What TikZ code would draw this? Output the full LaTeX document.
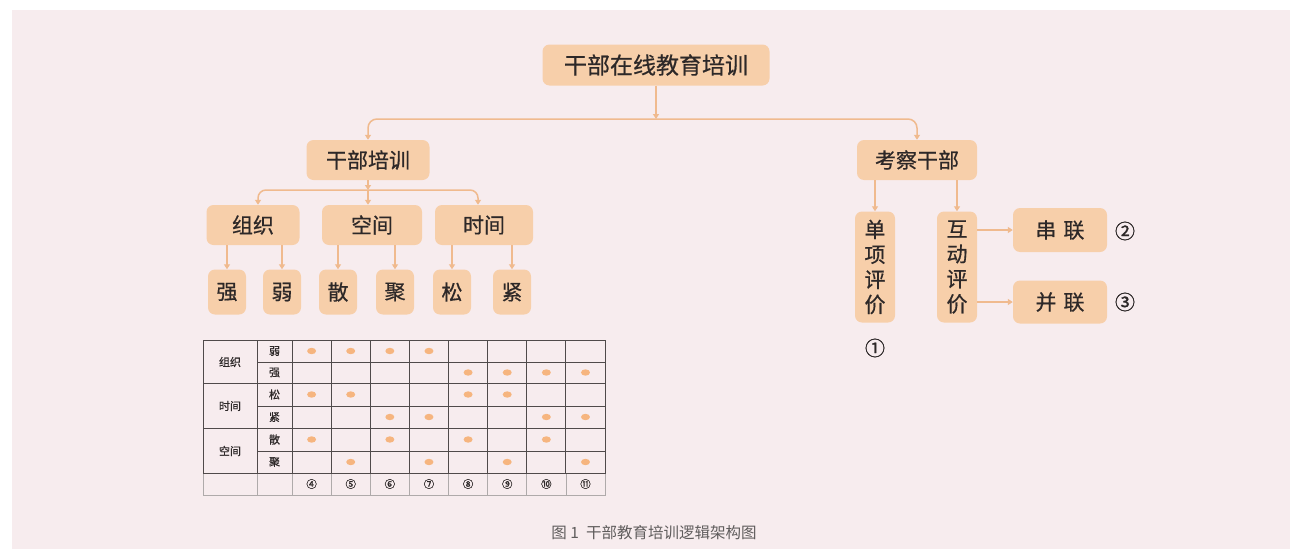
\documentclass[tikz,border=0pt]{standalone}
\usepackage{fontspec}
\setmainfont{Noto Sans CJK SC}
\newfontfamily\heavycjk[FakeBold=1.2]{Noto Sans CJK SC}
\newfontfamily\semicjk[FakeBold=0.6]{Noto Sans CJK SC}
\usetikzlibrary{arrows.meta}
\definecolor{bg}{RGB}{247,236,238}
\definecolor{boxc}{RGB}{247,207,170}
\definecolor{conn}{RGB}{240,186,142}
\definecolor{txt}{RGB}{45,40,40}
\definecolor{gridc}{RGB}{80,74,74}
\definecolor{gridl}{RGB}{175,170,170}
\definecolor{dotc}{RGB}{246,172,108}
\definecolor{capc}{RGB}{95,92,92}
\begin{document}
\begin{tikzpicture}[x=1pt,y=-1pt,
  box/.style={fill=boxc, rounded corners=7pt, inner sep=0pt, text=txt,
    font=\semicjk\fontsize{21}{25}\selectfont},
  arr/.style={draw=conn, line width=1.5pt, -{Triangle[width=6pt,length=5pt]}},
  num/.style={inner sep=0pt, text=txt, font=\heavycjk\fontsize{20}{22}\selectfont},
  tline/.style={draw=gridc, line width=1pt},
  lline/.style={draw=gridl, line width=0.8pt},
  tt/.style={inner sep=0pt, text=txt, font=\semicjk\fontsize{11}{13}\selectfont},
  dotmark/.style={fill=dotc, opacity=0.85}]
\useasboundingbox (0,0) rectangle (1290,549);
\fill[bg] (12,10) rectangle (1290,549);

% ---- top level
\node[box, minimum width=227pt, minimum height=41pt, font=\semicjk\fontsize{23}{26}\selectfont] (top) at (656,65) {干部在线教育培训};
\node[box, minimum width=123pt, minimum height=40pt] (train) at (368,160) {干部培训};
\node[box, minimum width=120pt, minimum height=40pt] (kc) at (917,160) {考察干部};
\coordinate (j0) at (656,119);
\draw[arr] (top.south) -- (j0);
\draw[arr, rounded corners=9pt] (j0) -| (train.north);
\draw[arr, rounded corners=9pt] (j0) -| (kc.north);

% ---- left subtree
\node[box, minimum width=93pt, minimum height=40pt] (zz) at (253,225) {组织};
\node[box, minimum width=100pt, minimum height=40pt] (kj) at (372,225) {空间};
\node[box, minimum width=98pt, minimum height=40pt] (sj) at (484,225) {时间};
\coordinate (j1) at (368,190);
\draw[arr] (train.south) -- (j1);
\draw[arr, rounded corners=8pt] (j1) -| ([xshift=5pt]zz.north);
\draw[arr] (j1) -- (j1 |- kj.north);
\draw[arr, rounded corners=8pt] (j1) -| ([xshift=-6pt]sj.north);

\foreach \nm/\xx/\tx in {qiang/227/强, ruo/282/弱, san/338/散, ju/395/聚, song/452/松, jin/512/紧}{
  \node[box, minimum width=38pt, minimum height=45pt] (\nm) at (\xx,292) {\tx};
}
\draw[arr] (qiang.north |- zz.south) -- (qiang.north);
\draw[arr] (ruo.north |- zz.south) -- (ruo.north);
\draw[arr] (san.north |- kj.south) -- (san.north);
\draw[arr] (ju.north |- kj.south) -- (ju.north);
\draw[arr] (song.north |- sj.south) -- (song.north);
\draw[arr] (jin.north |- sj.south) -- (jin.north);

% ---- right subtree
\node[box, minimum width=40pt, minimum height=111pt, align=center] (dx) at (875,267) {单\\项\\评\\价};
\node[box, minimum width=40pt, minimum height=111pt, align=center] (hd) at (957,267) {互\\动\\评\\价};
\draw[arr] (dx.north |- kc.south) -- (dx.north);
\draw[arr] (hd.north |- kc.south) -- (hd.north);
\node[box, minimum width=94pt, minimum height=44pt] (cl) at (1060,230) {串\hspace{7pt}联};
\node[box, minimum width=94pt, minimum height=43pt] (bl) at (1060,302) {并\hspace{7pt}联};
\draw[arr] (hd.east |- cl.west) -- (cl.west);
\draw[arr] (hd.east |- bl.west) -- (bl.west);
\node[num] (n1) at (875,348) {①};
\node[num] (n2) at (1125,231) {②};
\node[num] (n3) at (1125,302) {③};

% ---- table
% last row (light)
\draw[lline] (203,473) -- (203,495) -- (605,495) -- (605,473);
\foreach \xx in {257,292,331.1,370.3,409.4,448.5,487.6,526.8,565.9}{
  \draw[lline] (\xx,473) -- (\xx,495);
}
% main grid
\draw[tline] (203,340) rectangle (605,473);
\foreach \yy in {383,428}{ \draw[tline] (203,\yy) -- (605,\yy); }
\foreach \yy in {362,406,451}{ \draw[tline] (257,\yy) -- (605,\yy); }
\foreach \xx in {257,292,331.1,370.3,409.4,448.5,487.6,526.8,565.9}{
  \draw[tline] (\xx,340) -- (\xx,473);
}
% group labels
\node[tt] (gzz) at (230,362) {组织};
\node[tt] (gsj) at (230,406) {时间};
\node[tt] (gkj) at (230,451) {空间};
% row labels
\foreach \nm/\yy/\tx in {rr/351/弱, rq/372.5/强, rs/394.5/松, rj/417/紧, rsn/439.5/散, rjv/462/聚}{
  \node[tt] (\nm) at (274.5,\yy) {\tx};
}
% column numbers
\foreach \i/\tx in {0/④,1/⑤,2/⑥,3/⑦,4/⑧,5/⑨,6/⑩,7/⑪}{
  \node[tt, font=\heavycjk\fontsize{10.5}{12}\selectfont] (c\i) at ({311.6+39.125*\i},484) {\tx};
}
% orange marks
\foreach \yy/\cols in {351/{0,1,2,3}, 372.5/{4,5,6,7}, 394.5/{0,1,4,5}, 417/{2,3,6,7}, 439.5/{0,2,4,6}, 462/{1,3,5,7}}{
  \foreach \c in \cols {
    \fill[dotmark] ({311.6+39.125*\c},\yy) ellipse (4.5pt and 3.2pt);
  }
}

% ---- caption
\node[inner sep=0pt, text=capc, font=\fontsize{15.5}{18}\selectfont] (cap) at (654,533) {图 1\hspace{7pt}干部教育培训逻辑架构图};
\end{tikzpicture}
\end{document}
